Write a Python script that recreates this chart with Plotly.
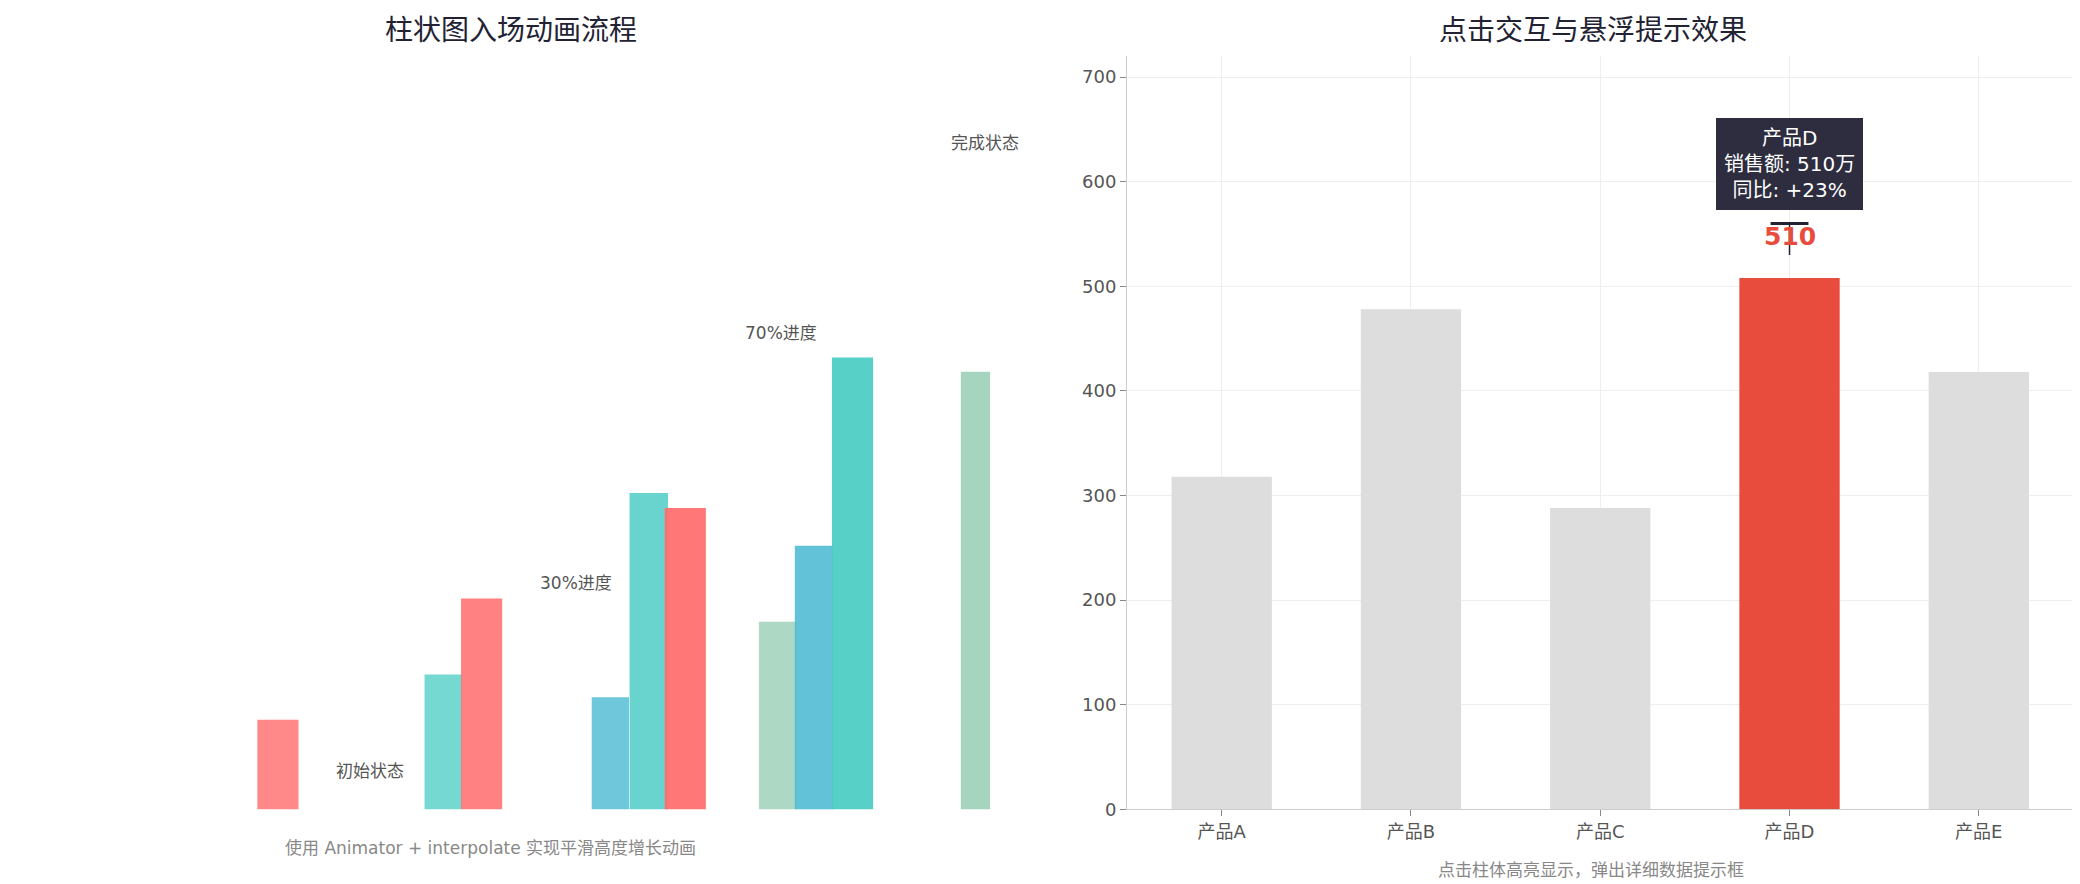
import plotly.graph_objects as go

# ---------------------------------------------------------
# Data
# ---------------------------------------------------------
# left: animation stages, every bar's slot position and height
anim_x = [7.0, 11.3, 12.3, 15.65, 16.65, 17.6, 20.0, 20.95, 21.95, 25.15]
anim_h = [11.9, 17.9, 28.0, 14.9, 42.0, 40.0, 24.9, 35.0, 60.0, 58.1]
anim_c = ['rgba(255,107,107,0.8)', 'rgba(78,205,196,0.78)', 'rgba(255,107,107,0.85)',
          'rgba(69,183,209,0.78)', 'rgba(78,205,196,0.85)', 'rgba(255,107,107,0.92)',
          'rgba(150,206,180,0.78)', 'rgba(69,183,209,0.85)', 'rgba(78,205,196,0.95)',
          'rgba(150,206,180,0.85)']
anim_w = [1.07, 0.97, 1.07, 0.97, 1.0, 1.07, 0.97, 1.0, 1.07, 0.76]
stage_labels = ['初始状态', '30%进度', '70%进度', '完成状态']
stage_lx = [9.4, 14.75, 20.1, 25.4]
stage_ly = [5.1, 30.0, 63.2, 88.4]

# right: product sales
products = ['产品A', '产品B', '产品C', '产品D', '产品E']
sales = [318, 478, 288, 508, 418]
highlight = '产品D'

# ---------------------------------------------------------
# Figure
# ---------------------------------------------------------
fig = go.Figure()

fig.add_trace(go.Bar(x=anim_x, y=anim_h, width=anim_w, marker_color=anim_c,
                     marker_line_width=0, xaxis='x', yaxis='y', hoverinfo='skip'))

fig.add_trace(go.Bar(x=products, y=sales, width=0.53,
                     marker_color=['#E74C3C' if p == highlight else '#DDDDDD' for p in products],
                     marker_line_width=0, xaxis='x2', yaxis='y2'))

font = 'DejaVu Sans, Noto Sans CJK SC, sans-serif'
ann = []
for t, lx, ly in zip(stage_labels, stage_lx, stage_ly):
    ann.append(dict(x=lx, y=ly, xref='x', yref='y', text=t, showarrow=False,
                    font=dict(size=17, color='#555555')))

hi = products.index(highlight)
ann.append(dict(x=highlight, y=sales[hi] + 40, xref='x2', yref='y2', text=f'<b>{sales[hi] + 2}</b>',
                showarrow=False, font=dict(size=25, color='#E74C3C')))
ann.append(dict(x=highlight, y=617, xref='x2', yref='y2',
                text='产品D<br>销售额: 510万<br>同比: +23%', showarrow=False,
                bgcolor='#2D2D3F', bordercolor='#2D2D3F', borderpad=7,
                font=dict(size=20, color='white')))

ann += [
    dict(x=0.242, y=0.995, xref='paper', yref='paper', xanchor='center', yanchor='top',
         text='柱状图入场动画流程', showarrow=False, font=dict(size=28, color='#222233')),
    dict(x=0.762, y=0.995, xref='paper', yref='paper', xanchor='center', yanchor='top',
         text='点击交互与悬浮提示效果', showarrow=False, font=dict(size=28, color='#222233')),
    dict(x=0.232, y=0.025, xref='paper', yref='paper', xanchor='center',
         text='使用 Animator + interpolate 实现平滑高度增长动画',
         showarrow=False, font=dict(size=17, color='#888888')),
    dict(x=0.761, y=0.0, xref='paper', yref='paper', xanchor='center', yanchor='bottom',
         text='点击柱体高亮显示，弹出详细数据提示框',
         showarrow=False, font=dict(size=17, color='#888888')),
]

shapes = [
    dict(type='line', xref='x2', yref='y2', x0=hi - 0.1, x1=hi + 0.1, y0=560, y1=560,
         line=dict(color='#222233', width=3)),
    dict(type='line', xref='x2', yref='y2', x0=hi, x1=hi, y0=560, y1=530,
         line=dict(color='#222233', width=1.5)),
]

fig.update_layout(
    width=2080, height=884,
    margin=dict(l=0, r=0, t=0, b=0),
    paper_bgcolor='white', plot_bgcolor='white',
    font=dict(family=font, size=18, color='#555555'),
    showlegend=False, barmode='overlay',
    xaxis=dict(domain=[0.008, 0.491], range=[0.41, 26.55], visible=False),
    yaxis=dict(domain=[0.083, 0.945], range=[0, 100], visible=False),
    xaxis2=dict(domain=[0.538, 0.993], anchor='y2', showline=True, linecolor='#CCCCCC',
                showgrid=True, gridcolor='#EEEEEE', ticks='outside', ticklen=6, tickcolor='#888888',
                range=[-0.5, 4.5]),
    yaxis2=dict(domain=[0.083, 0.945], anchor='x2', range=[0, 720], dtick=100, showline=True,
                linecolor='#CCCCCC', showgrid=True, gridcolor='#EEEEEE', ticks='outside',
                ticklen=6, tickcolor='#888888', zeroline=False),
    annotations=ann, shapes=shapes,
)

fig.write_html("out.html")
